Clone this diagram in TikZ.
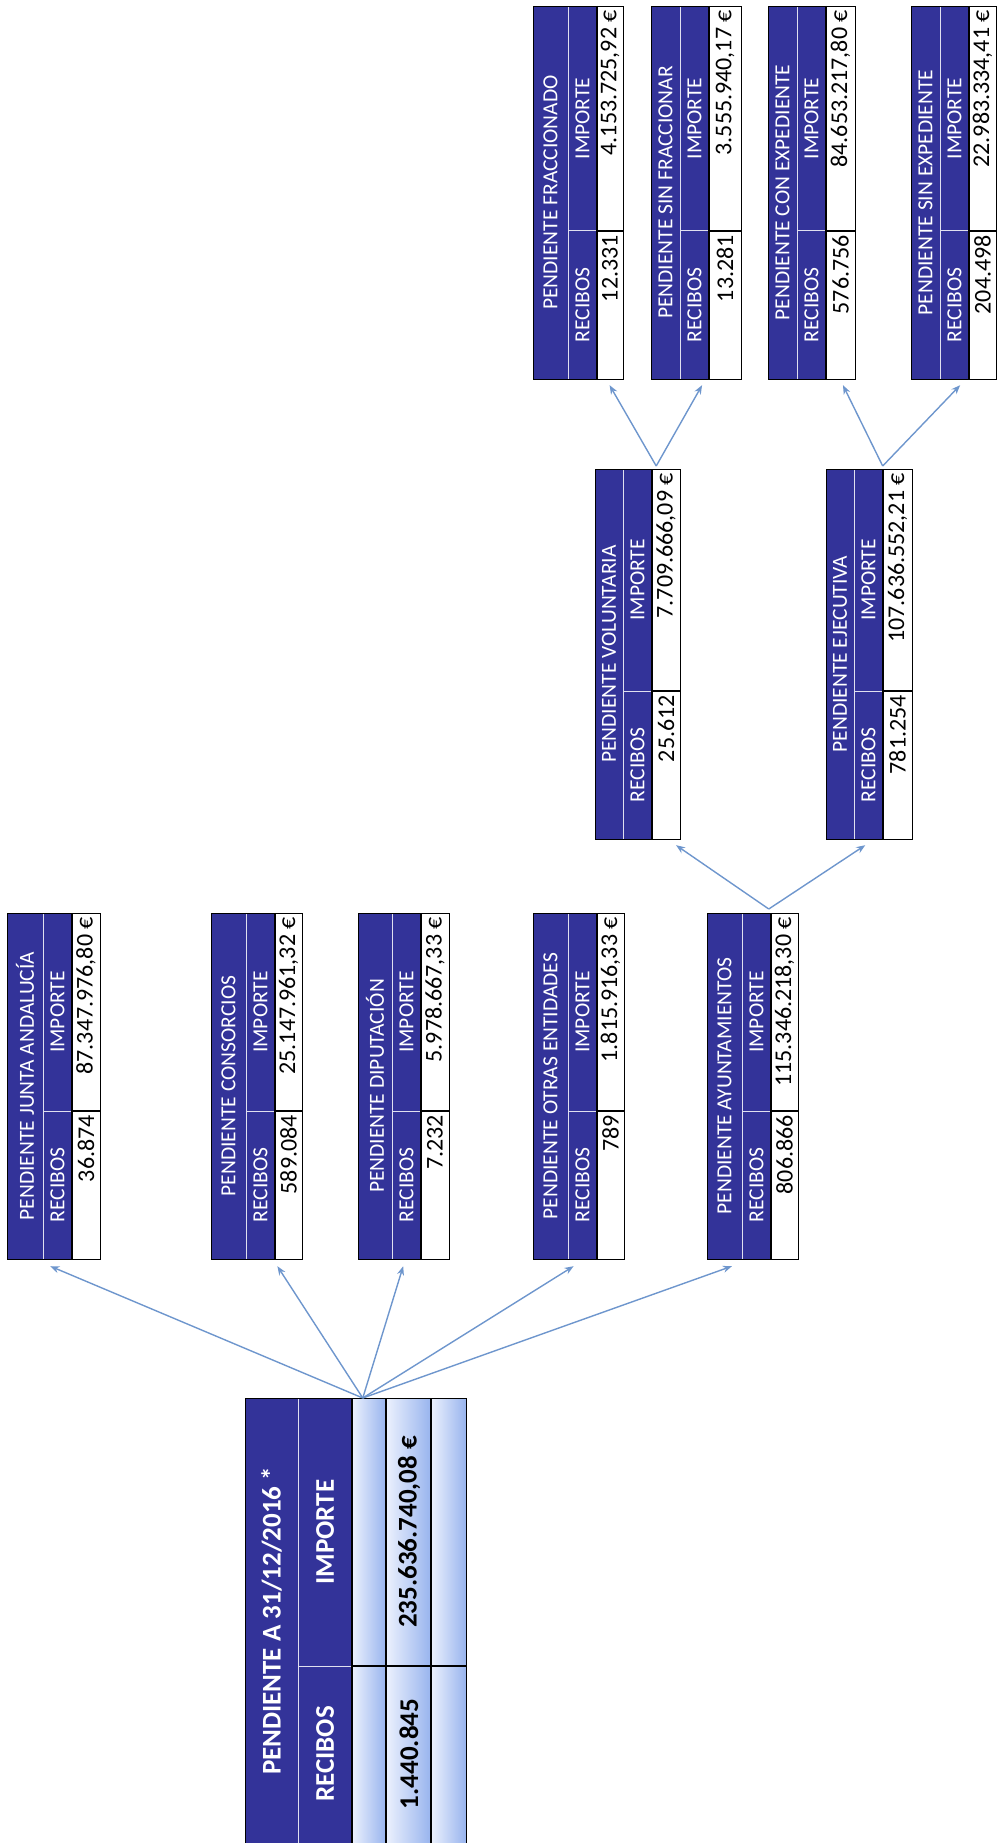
\documentclass[tikz,border=0pt]{standalone}
\usepackage{fontspec}
\setmainfont{Carlito}
\usepackage{tikz}
\usetikzlibrary{calc}
\usetikzlibrary{arrows.meta}

\definecolor{azul}{RGB}{51,51,153}
\definecolor{flecha}{RGB}{110,150,205}
\definecolor{celdaclara}{RGB}{236,241,253}
\definecolor{celdaazul}{RGB}{152,180,238}

\tikzset{
  marco/.style={draw=black, line width=1.2pt},
  blanca/.style={draw=white!85!azul, line width=1pt},
  rotulo/.style={rotate=90, text=white, inner sep=0pt, font=\fontsize{21.5}{21.5}\selectfont},
  cifra/.style={rotate=90, text=black, inner sep=0pt, font=\fontsize{24}{24}\selectfont},
  grande/.style={rotate=90, inner sep=0pt, font=\bfseries\fontsize{27}{27}\selectfont},
  flechita/.style={draw=flecha, line width=1.4pt, -{Stealth[length=9pt,width=7pt]}},
}

% #1 nombre, #2 x izq., #3 x fin titulo, #4 x der., #5 y arriba, #6 y abajo
\newcommand{\tabla}[9]{%
  \fill[azul] (#2,#5) rectangle (#3+29,#6);
  \draw[blanca] (#3,#5) -- (#3,#6);
  \draw[blanca] (#3,#6-148) -- (#3+29,#6-148);
  \draw[marco] (#3+29,#5) -- (#3+29,#6);
  \draw[marco] (#3+29,#6-148) -- (#4,#6-148);
  \node[marco, anchor=north west, minimum width={(#4-#2)*1pt}, minimum height={(#6-#5)*1pt}] (#1) at (#2,#5) {};
  \node[rotulo] (#1-tit) at ({(#2+#3)/2},{(#5+#6)/2}) {#7};
  \node[rotulo] (#1-rec) at ({#3+14.5},{#6-74}) {RECIBOS};
  \node[rotulo] (#1-imp) at ({#3+14.5},{(#5+#6-148)/2}) {IMPORTE};
  \node[cifra, anchor=east] (#1-nrec) at ({(#3+29+#4)/2},{#6-148+4}) {#8};
  \node[cifra, anchor=east] (#1-nimp) at ({(#3+29+#4)/2},{#5+4}) {#9};
}

\begin{document}
\begin{tikzpicture}[x=1pt, y=-1pt]
  \useasboundingbox (0,0) rectangle (997,1843);

  % total
  \fill[azul] (245,1398) rectangle (352,1843);
  \foreach \xa/\xb in {352/386, 386/431, 431/466}{
    \shade[left color=celdaclara, right color=celdaazul] (\xa,1398) rectangle (\xb,1666);
    \shade[left color=celdaclara, right color=celdaazul] (\xa,1666) rectangle (\xb,1843);
  }
  \draw[blanca] (298,1398) -- (298,1843);
  \draw[blanca] (298,1666) -- (352,1666);
  \draw[marco] (352,1398) -- (352,1843);
  \draw[marco] (386,1398) -- (386,1843);
  \draw[marco] (431,1398) -- (431,1843);
  \draw[marco] (352,1666) -- (466,1666);
  \node[marco, anchor=north west, minimum width=221pt, minimum height=445pt] (total) at (245,1398) {};
  \node[grande, text=white] (total-tit) at (271.5,1621) {PENDIENTE A 31/12/2016 *};
  \node[grande, text=white] (total-rec) at (325,1754) {RECIBOS};
  \node[grande, text=white] (total-imp) at (325,1532) {IMPORTE};
  \node[grande] (total-nrec) at (409,1754) {1.440.845};
  \node[grande] (total-nimp) at (409,1532) {235.636.740,08 €};

  % primer nivel
  \tabla{junta}{7}{43}{100}{913}{1259}{PENDIENTE JUNTA ANDALUCÍA}{36.874}{87.347.976,80 €}
  \tabla{consorcios}{211}{246}{302}{913}{1259}{PENDIENTE CONSORCIOS}{589.084}{25.147.961,32 €}
  \tabla{diputacion}{358}{392}{449}{913}{1259}{PENDIENTE DIPUTACIÓN}{7.232}{5.978.667,33 €}
  \tabla{otras}{533}{568}{624}{913}{1259}{PENDIENTE OTRAS ENTIDADES}{789}{1.815.916,33 €}
  \tabla{ayto}{707}{742}{798}{913}{1259}{PENDIENTE AYUNTAMIENTOS}{806.866}{115.346.218,30 €}

  % ayuntamientos
  \tabla{voluntaria}{595}{623}{680}{469}{839}{PENDIENTE VOLUNTARIA}{25.612}{7.709.666,09 €}
  \tabla{ejecutiva}{826}{854}{912}{469}{839}{PENDIENTE EJECUTIVA}{781.254}{107.636.552,21 €}

  \tabla{fracc}{533}{568}{623}{6}{379}{PENDIENTE FRACCIONADO}{12.331}{4.153.725,92 €}
  \tabla{sinfracc}{651}{680}{741}{6}{379}{PENDIENTE SIN FRACCIONAR}{13.281}{3.555.940,17 €}
  \tabla{conexp}{768}{797}{855}{6}{379}{PENDIENTE CON EXPEDIENTE}{576.756}{84.653.217,80 €}
  \tabla{sinexp}{911}{940}{996}{6}{379}{PENDIENTE SIN EXPEDIENTE}{204.498}{22.983.334,41 €}

  \draw[flechita] ($(total.north west)!0.53!(total.north east)$) -- ($(junta.south west)!0.46!(junta.south east)+(0,6)$);
  \draw[flechita] ($(total.north west)!0.53!(total.north east)$) -- ($(consorcios.south west)!0.72!(consorcios.south east)+(0,6)$);
  \draw[flechita] ($(total.north west)!0.53!(total.north east)$) -- ($(diputacion.south west)!0.49!(diputacion.south east)+(0,6)$);
  \draw[flechita] ($(total.north west)!0.53!(total.north east)$) -- ($(otras.south west)!0.44!(otras.south east)+(0,6)$);
  \draw[flechita] ($(total.north west)!0.53!(total.north east)$) -- ($(ayto.south west)!0.27!(ayto.south east)+(0,6)$);

  \draw[flechita] ($(ayto.north west)!0.67!(ayto.north east)+(0,-4)$) -- ($(voluntaria.south west)!0.94!(voluntaria.south east)+(0,5)$);
  \draw[flechita] ($(ayto.north west)!0.67!(ayto.north east)+(0,-4)$) -- ($(ejecutiva.south west)!0.45!(ejecutiva.south east)+(0,5)$);

  \draw[flechita] ($(voluntaria.north west)!0.71!(voluntaria.north east)+(0,-3)$) -- ($(fracc.south west)!0.84!(fracc.south east)+(0,5)$);
  \draw[flechita] ($(voluntaria.north west)!0.71!(voluntaria.north east)+(0,-3)$) -- ($(sinfracc.south west)!0.56!(sinfracc.south east)+(0,5)$);
  \draw[flechita] ($(ejecutiva.north west)!0.65!(ejecutiva.north east)+(0,-3)$) -- ($(conexp.south west)!0.85!(conexp.south east)+(0,5)$);
  \draw[flechita] ($(ejecutiva.north west)!0.65!(ejecutiva.north east)+(0,-3)$) -- ($(sinexp.south west)!0.57!(sinexp.south east)+(0,5)$);
\end{tikzpicture}
\end{document}
